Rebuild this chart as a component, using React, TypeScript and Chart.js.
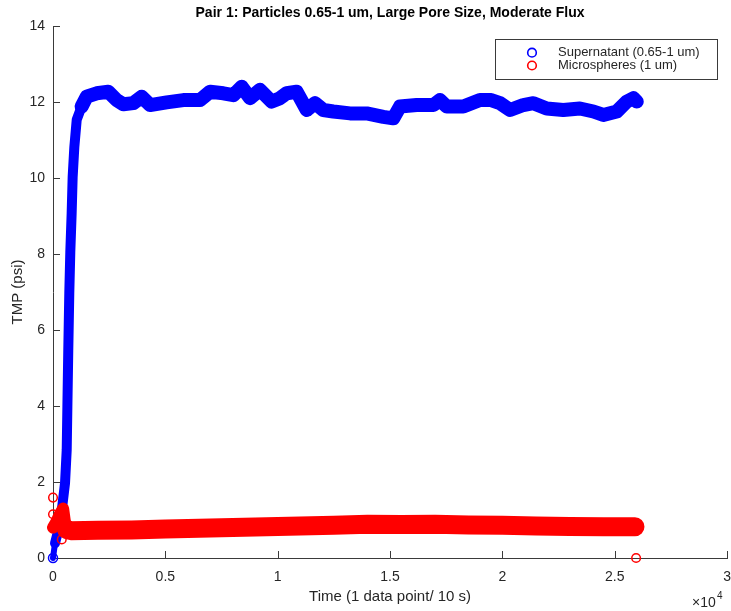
import React, { useEffect, useRef } from 'react';
import { Chart, registerables } from 'chart.js';

Chart.register(...registerables);

const TITLE = 'Pair 1: Particles 0.65-1 um, Large Pore Size, Moderate Flux';
const X_LABEL = 'Time (1 data point/ 10 s)';
const Y_LABEL = 'TMP (psi)';
const X_EXPONENT = '4';
const SERIES_NAMES = ['Supernatant (0.65-1 um)', 'Microspheres (1 um)'];
const SERIES_COLORS = ['#0000ff', '#ff0000'];

// Supernatant (blue)
const blueX = [0, 90, 240, 400, 535, 610, 640, 680, 725, 770, 830, 875, 950, 1055, 1275, 1500, 1945, 2460, 2835, 3130, 3575, 3945, 4320, 5060, 5800, 6540, 6990, 7580, 8025, 8400, 8770, 9210, 9730, 10100, 10400, 10845, 11290, 11660, 12030, 12475, 13220, 13960, 14700, 15145, 15440, 16185, 16930, 17220, 17520, 18260, 19000, 19500, 19890, 20340, 20930, 21380, 21970, 22710, 23450, 24050, 24490, 25090, 25530, 25830, 25980];
const blueY = [0, 0.39, 0.74, 1.3, 1.97, 2.84, 3.98, 5.47, 6.97, 8.05, 9.07, 10.03, 10.82, 11.53, 11.88, 12.14, 12.23, 12.27, 12.05, 11.94, 11.97, 12.14, 11.92, 11.99, 12.05, 12.05, 12.27, 12.23, 12.18, 12.4, 12.1, 12.32, 12.01, 12.1, 12.23, 12.27, 11.79, 11.97, 11.79, 11.75, 11.7, 11.7, 11.61, 11.57, 11.88, 11.92, 11.92, 12.05, 11.88, 11.88, 12.05, 12.05, 11.97, 11.79, 11.92, 11.97, 11.83, 11.79, 11.83, 11.75, 11.66, 11.75, 12.01, 12.1, 12.01];

// Microspheres (red) main band
const redX = [0, 150, 300, 450, 520, 600, 800, 2000, 3500, 5000, 6500, 8000, 9500, 11000, 12500, 14000, 15500, 17000, 18500, 20000, 21500, 23000, 24500, 25900];
const redY = [0.8, 0.95, 1.15, 1.3, 1.0, 0.75, 0.72, 0.73, 0.74, 0.76, 0.78, 0.8, 0.82, 0.84, 0.86, 0.89, 0.88, 0.89, 0.87, 0.86, 0.84, 0.83, 0.82, 0.82];

// Microspheres (red) isolated points
const redOutX = [0, 0, 390, 25950];
const redOutY = [1.59, 1.15, 0.49, 0];

const X_MIN = 0, X_MAX = 30000, X_STEP = 5000;
const Y_MIN = 0, Y_MAX = 14, Y_STEP = 2;

const W = 731, H = 611, TARGET_RIGHT = 727;

const FONT = "'Liberation Sans', Arial, Helvetica, sans-serif";
const TEXT = '#262626';
const AXIS = '#3a3a3a';

const toPts = (xs: number[], ys: number[]) => xs.map((x, i) => ({ x, y: ys[i] }));

const overlay = {
  id: 'overlay',
  beforeDatasetsDraw(chart: any) {
    const ctx = chart.ctx;
    const { left, bottom } = chart.chartArea;
    const xs = chart.scales.x;
    const ys = chart.scales.y;
    ctx.save();
    ctx.strokeStyle = AXIS;
    ctx.lineWidth = 1;
    ctx.beginPath();
    xs.ticks.forEach((t: any) => {
      const px = Math.round(xs.getPixelForValue(t.value)) + 0.5;
      ctx.moveTo(px, bottom);
      ctx.lineTo(px, bottom - 7);
    });
    ys.ticks.forEach((t: any) => {
      const py = Math.round(ys.getPixelForValue(t.value)) + 0.5;
      ctx.moveTo(left, py);
      ctx.lineTo(left + 7, py);
    });
    ctx.stroke();
    ctx.restore();
  },
  afterDraw(chart: any) {
    const ctx = chart.ctx;
    const { left, right, top, bottom } = chart.chartArea;
    ctx.save();
    ctx.fillStyle = '#000';
    ctx.textAlign = 'center';
    ctx.textBaseline = 'middle';
    ctx.font = `bold 14px ${FONT}`;
    ctx.fillText(TITLE, (left + right) / 2, 13);

    ctx.fillStyle = TEXT;
    ctx.font = `15px ${FONT}`;
    ctx.fillText(X_LABEL, (left + right) / 2, 597);
    ctx.save();
    ctx.translate(18, (top + bottom) / 2);
    ctx.rotate(-Math.PI / 2);
    ctx.fillText(Y_LABEL, 0, 0);
    ctx.restore();

    // exponent
    ctx.textAlign = 'left';
    ctx.textBaseline = 'alphabetic';
    ctx.font = `14px ${FONT}`;
    ctx.fillText('\u00d710', 692, 607);
    ctx.font = `10px ${FONT}`;
    ctx.fillText(X_EXPONENT, 717, 599);

    // legend
    const bx = 495.5, by = 39.5, bw = 222, bh = 40;
    ctx.fillStyle = '#fff';
    ctx.fillRect(bx, by, bw, bh);
    ctx.strokeStyle = AXIS;
    ctx.lineWidth = 1;
    ctx.strokeRect(bx, by, bw, bh);
    const rows = [52.7, 65.5];
    SERIES_NAMES.forEach((name, i) => {
      ctx.beginPath();
      ctx.strokeStyle = SERIES_COLORS[i];
      ctx.lineWidth = 1.6;
      ctx.arc(532, rows[i], 4.3, 0, Math.PI * 2);
      ctx.stroke();
      ctx.fillStyle = TEXT;
      ctx.font = `13px ${FONT}`;
      ctx.textAlign = 'left';
      ctx.textBaseline = 'middle';
      ctx.fillText(name, 558, rows[i]);
    });
    ctx.restore();
  },
};

export default function App() {
  const ref = useRef<HTMLCanvasElement | null>(null);
  useEffect(() => {
    if (!ref.current) return;
    const chart = new Chart(ref.current, {
      type: 'scatter',
      data: {
        datasets: [
          {
            label: SERIES_NAMES[1],
            data: toPts(redX, redY),
            showLine: true,
            borderColor: SERIES_COLORS[1],
            borderWidth: 19,
            borderCapStyle: 'round',
            borderJoinStyle: 'round',
            pointRadius: 0,
            clip: false,
            order: 1,
            segment: { borderWidth: (c: any) => (c.p1.parsed.x <= 600 ? 12 : 19) },
          },
          {
            label: SERIES_NAMES[1] + ' pts',
            data: toPts(redOutX, redOutY),
            showLine: false,
            borderColor: SERIES_COLORS[1],
            backgroundColor: 'transparent',
            pointRadius: 4.3,
            pointBorderWidth: 1.5,
            clip: false,
            order: 0,
          },
          {
            label: SERIES_NAMES[0],
            data: toPts(blueX, blueY),
            showLine: true,
            borderColor: SERIES_COLORS[0],
            borderWidth: 14,
            borderCapStyle: 'round',
            borderJoinStyle: 'round',
            pointRadius: (c: any) => {
              const x = c.raw ? c.raw.x : 0;
              if (c.dataIndex === 0) return 4.5;
              return x <= 1275 ? 0 : 5.5;
            },
            pointBorderWidth: 1.5,
            pointBackgroundColor: 'transparent',
            pointBorderColor: SERIES_COLORS[0],
            clip: false,
            order: 2,
            segment: { borderWidth: (c: any) => (c.p1.parsed.x <= 1275 ? (c.p0.parsed.x === 0 ? 6 : 10) : 14) },
          },
        ],
      },
      options: {
        animation: false,
        responsive: false,
        maintainAspectRatio: false,
        layout: { padding: { top: 26, right: 0, left: 0, bottom: 0 } },
        plugins: { legend: { display: false }, tooltip: { enabled: false }, title: { display: false } },
        scales: {
          x: {
            type: 'linear',
            min: X_MIN,
            max: X_MAX,
            grid: { display: false, drawTicks: false },
            border: { display: true, color: AXIS, width: 1 },
            ticks: {
              stepSize: X_STEP,
              padding: 11,
              color: TEXT,
              font: { family: FONT, size: 14 },
              maxRotation: 0,
              callback: (v: any) => String(Number(v) / 10000),
            },
            afterFit: (s: any) => { s.height = 53; },
          },
          y: {
            type: 'linear',
            min: Y_MIN,
            max: Y_MAX,
            grid: { display: false, drawTicks: false },
            border: { display: true, color: AXIS, width: 1 },
            ticks: {
              stepSize: Y_STEP,
              padding: 8,
              color: TEXT,
              font: { family: FONT, size: 14 },
            },
            afterFit: (s: any) => { s.width = 53; },
          },
        },
      },
      plugins: [overlay],
    } as any);
    // make the plot area's right edge land where the reference has it
    for (let i = 0; i < 3; i++) {
      const margin = chart.width - chart.chartArea.right;
      const wanted = Math.round(TARGET_RIGHT + margin);
      if (Math.abs(chart.chartArea.right - TARGET_RIGHT) < 0.5) break;
      chart.resize(wanted, H);
    }
    return () => chart.destroy();
  }, []);
  return (
    <div style={{ position: 'fixed', left: 0, top: 0, width: W, height: H, overflow: 'hidden', background: '#fff' }}>
      <canvas ref={ref} width={W} height={H} style={{ display: 'block' }} />
    </div>
  );
}
